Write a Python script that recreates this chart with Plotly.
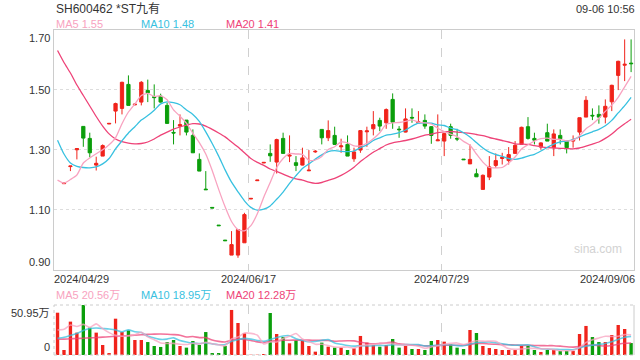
import plotly.graph_objects as go

# ---------------- data ----------------
idx = list(range(90))

opens = [None, 1.186, 1.243, 1.299, 1.377, 1.337, 1.248, 1.278, 1.385, 1.428,
         1.437, 1.517, 1.449, 1.458, 1.497, 1.476, 1.478, 1.447, 1.357, 1.378,
         1.398, 1.347, 1.267, 1.168, 1.107, 1.048, 0.998, 0.948, 0.948, 0.989,
         1.135, 1.196, 1.255, 1.287, 1.258, 1.337, 1.278, 1.256, 1.248, 1.229,
         1.292, 1.367, 1.339, 1.347, 1.309, 1.317, 1.269, 1.298, 1.359, 1.369,
         1.397, 1.389, 1.467, 1.368, 1.358, 1.407, 1.389, 1.397, 1.376, 1.329,
         1.328, 1.376, 1.337, 1.268, 1.252, 1.219, 1.167, 1.208, 1.247, 1.270,
         1.263, 1.287, 1.317, 1.376, 1.337, 1.308, 1.356, 1.306, 1.347, 1.328,
         1.328, 1.358, 1.408, 1.414, 1.417, 1.408, 1.459, 1.547, 1.581, 1.588]
highs = [None, 1.188, 1.245, 1.305, 1.378, 1.356, 1.276, 1.317, 1.387, 1.456,
         1.526, 1.547, 1.455, 1.528, 1.533, 1.517, 1.486, 1.456, 1.398, 1.417,
         1.398, 1.367, 1.287, 1.228, 1.107, 1.048, 0.998, 1.028, 1.033, 1.089,
         1.137, 1.198, 1.257, 1.317, 1.336, 1.356, 1.347, 1.278, 1.306, 1.298,
         1.298, 1.367, 1.397, 1.376, 1.336, 1.347, 1.306, 1.365, 1.376, 1.428,
         1.406, 1.437, 1.487, 1.378, 1.437, 1.437, 1.428, 1.417, 1.378, 1.417,
         1.355, 1.386, 1.369, 1.268, 1.317, 1.236, 1.217, 1.278, 1.287, 1.289,
         1.308, 1.328, 1.376, 1.408, 1.356, 1.324, 1.386, 1.367, 1.367, 1.328,
         1.347, 1.406, 1.478, 1.437, 1.447, 1.467, 1.516, 1.596, 1.667, 1.667]
lows = [None, 1.186, 1.228, 1.267, 1.309, 1.274, 1.230, 1.278, 1.385, 1.387,
        1.417, 1.447, 1.447, 1.447, 1.458, 1.437, 1.456, 1.386, 1.317, 1.347,
        1.347, 1.289, 1.228, 1.166, 1.105, 1.046, 0.996, 0.948, 0.939, 0.989,
        1.135, 1.196, 1.255, 1.259, 1.220, 1.287, 1.258, 1.228, 1.247, 1.228,
        1.289, 1.317, 1.328, 1.315, 1.289, 1.278, 1.259, 1.289, 1.309, 1.347,
        1.361, 1.369, 1.369, 1.339, 1.357, 1.389, 1.389, 1.369, 1.319, 1.328,
        1.278, 1.336, 1.328, 1.266, 1.252, 1.209, 1.167, 1.198, 1.239, 1.250,
        1.250, 1.287, 1.317, 1.333, 1.317, 1.300, 1.328, 1.278, 1.317, 1.287,
        1.306, 1.330, 1.408, 1.398, 1.386, 1.387, 1.428, 1.498, 1.528, 1.558]
closes = [None, 1.188, 1.245, 1.303, 1.338, 1.289, 1.254, 1.313, 1.387, 1.453,
          1.524, 1.447, 1.451, 1.524, 1.489, 1.473, 1.458, 1.387, 1.355, 1.383,
          1.358, 1.289, 1.228, 1.166, 1.105, 1.046, 0.996, 0.983, 1.033, 1.083,
          1.137, 1.198, 1.257, 1.279, 1.333, 1.287, 1.281, 1.247, 1.272, 1.231,
          1.294, 1.339, 1.363, 1.317, 1.312, 1.278, 1.292, 1.363, 1.362, 1.383,
          1.378, 1.433, 1.391, 1.366, 1.402, 1.405, 1.392, 1.378, 1.347, 1.332,
          1.353, 1.347, 1.335, 1.266, 1.267, 1.209, 1.214, 1.242, 1.263, 1.274,
          1.283, 1.314, 1.374, 1.337, 1.331, 1.322, 1.328, 1.352, 1.336, 1.306,
          1.331, 1.406, 1.464, 1.412, 1.408, 1.444, 1.514, 1.594, 1.584, 1.586]

ma5 = [1.198, 1.188, 1.200, 1.215, 1.255, 1.272, 1.286, 1.299, 1.316, 1.339,
       1.386, 1.425, 1.452, 1.480, 1.487, 1.477, 1.479, 1.466, 1.432, 1.411,
       1.388, 1.354, 1.323, 1.285, 1.230, 1.167, 1.109, 1.060, 1.033, 1.029,
       1.046, 1.086, 1.141, 1.190, 1.240, 1.270, 1.287, 1.285, 1.284, 1.264,
       1.265, 1.277, 1.300, 1.309, 1.325, 1.322, 1.312, 1.312, 1.321, 1.336,
       1.356, 1.384, 1.389, 1.390, 1.394, 1.399, 1.391, 1.389, 1.385, 1.371,
       1.360, 1.351, 1.343, 1.327, 1.314, 1.285, 1.258, 1.240, 1.239, 1.240,
       1.255, 1.275, 1.302, 1.316, 1.328, 1.336, 1.338, 1.334, 1.334, 1.329,
       1.331, 1.346, 1.369, 1.384, 1.404, 1.427, 1.448, 1.474, 1.509, 1.544]
ma10 = [1.331, 1.285, 1.255, 1.244, 1.240, 1.239, 1.242, 1.252, 1.270, 1.302,
        1.329, 1.355, 1.376, 1.398, 1.413, 1.431, 1.452, 1.459, 1.456, 1.449,
        1.432, 1.417, 1.394, 1.359, 1.320, 1.278, 1.232, 1.191, 1.159, 1.129,
        1.107, 1.098, 1.101, 1.112, 1.134, 1.158, 1.187, 1.213, 1.237, 1.252,
        1.268, 1.282, 1.293, 1.296, 1.294, 1.293, 1.295, 1.306, 1.315, 1.330,
        1.339, 1.348, 1.351, 1.356, 1.365, 1.378, 1.388, 1.389, 1.388, 1.382,
        1.380, 1.371, 1.366, 1.356, 1.342, 1.323, 1.305, 1.291, 1.283, 1.277,
        1.270, 1.267, 1.271, 1.278, 1.284, 1.295, 1.307, 1.318, 1.325, 1.328,
        1.333, 1.342, 1.351, 1.359, 1.367, 1.379, 1.397, 1.422, 1.446, 1.474]
ma20 = [1.630, 1.590, 1.555, 1.515, 1.480, 1.445, 1.410, 1.378, 1.352, 1.335,
        1.326, 1.321, 1.319, 1.320, 1.325, 1.335, 1.348, 1.358, 1.368, 1.375,
        1.381, 1.386, 1.385, 1.378, 1.367, 1.355, 1.342, 1.325, 1.308, 1.289,
        1.270, 1.257, 1.247, 1.235, 1.227, 1.218, 1.209, 1.202, 1.198, 1.191,
        1.187, 1.190, 1.197, 1.204, 1.214, 1.226, 1.241, 1.260, 1.276, 1.291,
        1.303, 1.315, 1.322, 1.326, 1.330, 1.335, 1.341, 1.348, 1.351, 1.356,
        1.359, 1.360, 1.358, 1.356, 1.354, 1.350, 1.346, 1.340, 1.335, 1.330,
        1.325, 1.319, 1.318, 1.317, 1.313, 1.309, 1.306, 1.305, 1.304, 1.303,
        1.302, 1.305, 1.311, 1.318, 1.325, 1.337, 1.352, 1.370, 1.386, 1.401]

vol = [43.1, 5.1, 34.0, 22.8, 50.95, 27.9, 22.8, 10.2, 2.0, 37.0,
       23.4, 25.1, 15.3, 15.3, 13.2, 9.2, 8.2, 13.2, 15.3, 9.2,
       7.5, 14.3, 10.2, 23.4, 2.0, 2.0, 9.2, 45.9, 32.6, 22.1,
       0.3, 0.3, 1.0, 42.8, 21.4, 18.3, 11.9, 14.9, 14.9, 9.2,
       3.4, 12.6, 8.5, 7.5, 7.5, 5.1, 6.8, 19.4, 12.6, 10.2,
       8.5, 10.2, 16.3, 7.5, 9.2, 6.1, 6.1, 5.1, 14.3, 15.3,
       13.6, 10.9, 7.5, 6.1, 25.5, 22.4, 9.2, 7.1, 6.1, 5.1,
       5.1, 5.1, 9.2, 9.2, 5.1, 3.1, 5.1, 5.1, 4.1, 4.1,
       4.1, 21.4, 29.6, 18.3, 13.2, 13.2, 20.4, 30.6, 26.5, 12.2]
vol_ma5 = [25.5, 26.2, 30.5, 29.0, 31.2, 28.2, 31.7, 26.9, 22.8, 20.0,
           19.1, 19.5, 20.6, 23.2, 18.5, 15.6, 12.2, 11.8, 11.8, 11.0,
           10.7, 11.9, 11.3, 12.9, 11.5, 10.4, 9.4, 16.5, 18.3, 22.4,
           22.0, 20.2, 11.3, 13.3, 13.2, 16.8, 19.1, 21.9, 16.3, 13.8,
           10.9, 11.0, 9.7, 8.2, 7.9, 8.2, 7.1, 9.3, 10.3, 10.8,
           11.5, 12.2, 11.6, 10.5, 10.3, 9.9, 9.0, 6.8, 8.2, 9.4,
           10.9, 11.8, 12.3, 10.7, 12.7, 14.5, 14.1, 14.1, 14.1, 10.0,
           6.5, 5.7, 6.1, 6.7, 6.7, 6.3, 6.3, 5.5, 4.5, 4.3,
           4.5, 7.8, 12.7, 15.5, 17.3, 19.1, 18.9, 19.1, 20.8, 20.56]
vol_ma10 = [17.0, 18.0, 20.0, 22.0, 25.0, 27.0, 27.5, 27.0, 26.5, 25.6,
            23.6, 25.6, 23.7, 23.0, 19.2, 17.4, 15.9, 16.2, 17.5, 14.7,
            13.2, 12.1, 11.6, 12.4, 11.3, 10.5, 10.6, 13.9, 15.6, 16.9,
            16.2, 14.8, 13.9, 15.8, 17.8, 19.4, 19.7, 16.6, 14.8, 13.5,
            13.8, 15.0, 15.8, 12.3, 10.9, 9.6, 9.0, 9.5, 9.3, 9.4,
            9.9, 9.6, 10.4, 10.4, 10.6, 10.7, 10.6, 9.2, 9.4, 9.9,
            10.4, 10.4, 9.6, 9.4, 11.1, 12.7, 13.0, 13.2, 12.4, 11.4,
            10.5, 9.9, 10.1, 10.4, 8.4, 6.4, 6.0, 5.8, 5.6, 5.5,
            5.4, 7.1, 9.1, 10.0, 10.8, 11.8, 13.4, 15.9, 18.1, 18.95]
vol_ma20 = [16.0, 16.2, 16.5, 16.8, 17.1, 17.4, 17.8, 18.2, 18.6, 19.0,
            19.4, 19.8, 20.2, 20.6, 21.0, 21.3, 21.4, 21.2, 20.8, 20.2,
            18.4, 18.8, 17.7, 17.7, 15.2, 13.9, 13.3, 15.0, 16.6, 15.8,
            14.7, 13.4, 12.7, 14.1, 14.5, 15.0, 15.1, 15.2, 15.2, 15.2,
            15.0, 14.9, 14.8, 14.0, 14.3, 14.5, 14.4, 13.0, 12.0, 11.4,
            11.8, 12.3, 13.1, 11.3, 10.7, 10.1, 9.8, 9.3, 9.3, 9.6,
            10.1, 10.0, 10.0, 9.9, 10.8, 11.7, 11.8, 11.2, 10.9, 10.6,
            10.4, 10.2, 9.8, 9.9, 9.7, 9.6, 9.5, 9.5, 9.0, 8.4,
            8.0, 8.5, 9.6, 10.2, 9.6, 9.1, 9.7, 10.9, 11.9, 12.28]

price_ticks = [1.70, 1.50, 1.30, 1.10, 0.90]
price_labels = ["1.70", "1.50", "1.30", "1.10", "0.90"]
vol_ticks = [50.95, 0]
vol_labels = ["50.95万", "0"]
date_pos = [-0.55, 29.65, 59.65, 89.45]
date_labels = ["2024/04/29", "2024/06/17", "2024/07/29", "2024/09/06"]

title_text = "SH600462 *ST九有"
time_text = "09-06 10:56"
price_legend = ["MA5 1.55", "MA10 1.48", "MA20 1.41"]
vol_legend = ["MA5 20.56万", "MA10 18.95万", "MA20 12.28万"]

# ---------------- style ----------------
RED = "#f0231b"
GREEN = "#0b9e0b"
C5, C10, C20 = "#f8a3c0", "#38c1e0", "#ee4378"
FONT = "Liberation Sans, Arial, Noto Sans CJK SC, sans-serif"
TXT = "#333333"
W, H = 640, 360
L, R = 54, 6
PW = W - L - R
XR = [-0.55, 89.45]


def px_x(p):
    return (p - L) / PW


def px_y(p):
    return (H - p) / H


fig = go.Figure()

fig.add_trace(go.Candlestick(
    x=idx, open=opens, high=highs, low=lows, close=closes,
    increasing=dict(line=dict(color=RED, width=1), fillcolor=RED),
    decreasing=dict(line=dict(color=GREEN, width=1), fillcolor=GREEN),
    whiskerwidth=0, xaxis="x", yaxis="y", hoverinfo="skip"))

for series, col in ((ma20, C20), (ma10, C10), (ma5, C5)):
    fig.add_trace(go.Scatter(x=idx, y=series, mode="lines",
                             line=dict(color=col, width=1.3, shape="spline", smoothing=0.6),
                             xaxis="x", yaxis="y", hoverinfo="skip"))

vol_colors = [RED if (o is None or c >= o) else GREEN for o, c in zip(opens, closes)]
fig.add_trace(go.Bar(x=idx, y=vol, marker=dict(color=vol_colors, line=dict(width=0)),
                     width=0.52, xaxis="x2", yaxis="y2", hoverinfo="skip"))

for series, col in ((vol_ma20, C20), (vol_ma10, C10), (vol_ma5, C5)):
    fig.add_trace(go.Scatter(x=idx, y=series, mode="lines", opacity=0.75,
                             line=dict(color=col, width=1.6, shape="spline", smoothing=0.6),
                             xaxis="x2", yaxis="y2", hoverinfo="skip"))

price_dom = [px_y(269.5), px_y(29.5)]
vol_dom = [px_y(355), px_y(305)]

fig.update_layout(
    width=W, height=H,
    margin=dict(l=L, r=R, t=0, b=0),
    paper_bgcolor="white", plot_bgcolor="white",
    showlegend=False, hovermode=False,
    boxgap=0.28,
    font=dict(family=FONT, size=11, color=TXT),
    xaxis=dict(domain=[0, 1], range=XR, anchor="y", tickvals=date_pos[1:3],
               showticklabels=False, ticks="", showgrid=True, gridcolor="#d0d0d0",
               griddash="dash", gridwidth=1, zeroline=False,
               showline=True, mirror=True, linecolor="#cccccc", linewidth=1,
               rangeslider=dict(visible=False)),
    yaxis=dict(domain=price_dom, range=[0.90, 1.70], anchor="x",
               tickvals=price_ticks[1:4], showticklabels=False, ticks="",
               showgrid=True, gridcolor="#dddddd", griddash="dot", gridwidth=1,
               zeroline=False, showline=True, mirror=True, linecolor="#cccccc", linewidth=1),
    xaxis2=dict(domain=[0, 1], range=XR, anchor="y2", tickvals=date_pos[1:3],
                showticklabels=False, ticks="", showgrid=True, gridcolor="#d0d0d0",
                griddash="dash", zeroline=False, showline=False),
    yaxis2=dict(domain=vol_dom, range=[0, 50.95], anchor="x2", showticklabels=False,
                ticks="", showgrid=False, zeroline=False, showline=False),
)

# volume panel frame
shapes = []
for y in (0, 1):
    shapes.append(dict(type="line", xref="paper", yref="y2 domain", x0=0, x1=1, y0=y, y1=y,
                       line=dict(color="#cccccc", width=1, dash="dot")))
shapes.append(dict(type="line", xref="paper", yref="y2 domain", x0=0, x1=0, y0=0, y1=1,
                   line=dict(color="#cccccc", width=1, dash="dot")))
shapes.append(dict(type="line", xref="paper", yref="y2 domain", x0=1, x1=1, y0=0, y1=1,
                   line=dict(color="#cccccc", width=1)))
fig.update_layout(shapes=shapes)

ann = []
ann.append(dict(text=title_text, xref="paper", yref="paper", x=px_x(54), y=px_y(9),
                xanchor="left", yanchor="middle", showarrow=False,
                font=dict(size=12, color=TXT)))
ann.append(dict(text=time_text, xref="paper", yref="paper", x=1, y=px_y(9), xshift=3,
                xanchor="right", yanchor="middle", showarrow=False,
                font=dict(size=11, color=TXT)))
for txt, col, xp in zip(price_legend, (C5, C10, C20), (54, 139, 224)):
    ann.append(dict(text=txt, xref="paper", yref="paper", x=px_x(xp), y=px_y(24),
                    xanchor="left", yanchor="middle", showarrow=False,
                    font=dict(size=11, color=col)))
for txt, col, xp in zip(vol_legend, (C5, C10, C20), (54, 139, 224)):
    ann.append(dict(text=txt, xref="paper", yref="paper", x=px_x(xp), y=px_y(295),
                    xanchor="left", yanchor="middle", showarrow=False,
                    font=dict(size=11, color=col)))
for v, t in zip(price_ticks, price_labels):
    ya = "top" if v == max(price_ticks) else ("bottom" if v == min(price_ticks) else "middle")
    ann.append(dict(text=t, xref="paper", yref="y", x=0, y=v, xshift=-2,
                    xanchor="right", yanchor=ya, showarrow=False,
                    font=dict(size=11, color=TXT)))
for v, t in zip(vol_ticks, vol_labels):
    ya = "top" if v == max(vol_ticks) else "bottom"
    ann.append(dict(text=t, xref="paper", yref="y2", x=0, y=v, xshift=-2,
                    xanchor="right", yanchor=ya, showarrow=False,
                    font=dict(size=11, color=TXT)))
for i, (p, t) in enumerate(zip(date_pos, date_labels)):
    xa = "left" if i == 0 else ("right" if i == len(date_pos) - 1 else "center")
    ann.append(dict(text=t, xref="x", yref="paper", x=p, y=px_y(279),
                    xshift=(-2 if xa == "left" else (3 if xa == "right" else 0)),
                    xanchor=xa, yanchor="middle", showarrow=False,
                    font=dict(size=11, color=TXT)))
ann.append(dict(text="sina.com", xref="paper", yref="paper", x=px_x(624), y=px_y(249),
                xanchor="right", yanchor="middle", showarrow=False,
                font=dict(size=12, color="#d2d2d2")))
fig.update_layout(annotations=ann)

fig.write_html("out.html", config={"displayModeBar": False, "staticPlot": True},
               post_script="document.body.style.margin='0';document.body.style.padding='0';document.body.style.overflow='hidden';")
